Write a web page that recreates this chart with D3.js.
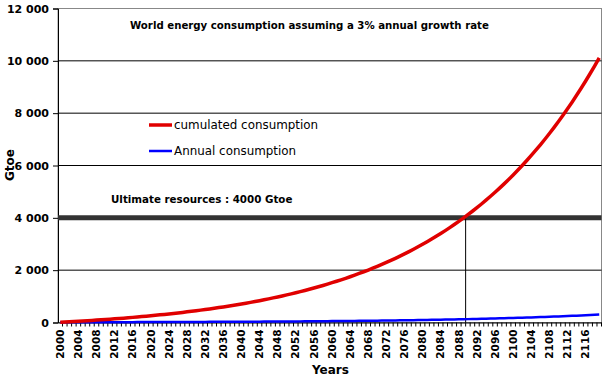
<!DOCTYPE html>
<html>
<head>
<meta charset="utf-8">
<script src="https://cdn.jsdelivr.net/npm/d3@7"></script>
<style>
  body { margin: 0; background: #fff; }
  text { font-family: "DejaVu Sans", sans-serif; }
</style>
</head>
<body>
<div id="chart"></div>
<script>
// years shown on the category axis (2000 -> 2119)
var years = d3.range(2000, 2120);

// cumulated consumption since 2000 (Gtoe)
var cumulated = [
    9, 18, 28, 38, 48, 58, 69, 80, 91, 103,
    115, 128, 141, 154, 167, 181, 196, 211, 226, 242,
    258, 275, 292, 310, 328, 347, 366, 386, 407, 428,
    450, 473, 496, 520, 544, 570, 596, 622, 650, 679,
    708, 738, 769, 801, 834, 869, 904, 940, 977, 1015,
    1055, 1095, 1137, 1180, 1225, 1270, 1318, 1366, 1416, 1468,
    1521, 1575, 1631, 1689, 1749, 1811, 1874, 1939, 2006, 2075,
    2147, 2220, 2296, 2374, 2454, 2536, 2621, 2709, 2799, 2892,
    2988, 3087, 3188, 3293, 3401, 3512, 3626, 3744, 3865, 3990,
    4119, 4251, 4388, 4529, 4674, 4823, 4976, 5135, 5298, 5466,
    5639, 5817, 6000, 6189, 6384, 6584, 6791, 7004, 7223, 7448,
    7681, 7920, 8167, 8421, 8683, 8952, 9230, 9516, 9810, 10113
];

// annual consumption (Gtoe)
var annual = [
    9, 9, 10, 10, 10, 10, 11, 11, 11, 12,
    12, 12, 13, 13, 14, 14, 14, 15, 15, 16,
    16, 17, 17, 18, 18, 19, 19, 20, 21, 21,
    22, 23, 23, 24, 25, 25, 26, 27, 28, 29,
    29, 30, 31, 32, 33, 34, 35, 36, 37, 38,
    39, 41, 42, 43, 44, 46, 47, 49, 50, 51,
    53, 55, 56, 58, 60, 61, 63, 65, 67, 69,
    71, 73, 76, 78, 80, 83, 85, 88, 90, 93,
    96, 99, 102, 105, 108, 111, 114, 118, 121, 125,
    129, 133, 137, 141, 145, 149, 154, 158, 163, 168,
    173, 178, 184, 189, 195, 201, 207, 213, 219, 226,
    232, 239, 247, 254, 262, 269, 278, 286, 294, 303
];

var yTicks = [0, 2000, 4000, 6000, 8000, 10000, 12000];
var ultimateResources = 4000;
var exhaustionYear = 2090;   // first year past the resource line

var seriesNames = ["cumulated consumption", "Annual consumption"];
var seriesColors = ["#e00000", "#0000ff"];

// dimensions
var W = 604, H = 377;
var margin = { top: 8.5, right: 2.5, bottom: 54.5, left: 58 },
    width = W - margin.left - margin.right,
    height = H - margin.top - margin.bottom;

var svg = d3.select("#chart")
    .append("svg")
    .attr("width", W)
    .attr("height", H)
    .append("g")
    .attr("transform", "translate(" + margin.left + "," + margin.top + ")");

var x = d3.scaleBand()
    .domain(years)
    .range([0, width]);

var y = d3.scaleLinear()
    .domain([0, 12000])
    .range([height, 0]);

var fmt = function (d) { return d3.format(",")(d).replace(/,/g, " "); };

// plot frame (grey top and right edges)
svg.append("rect")
    .attr("x", 0).attr("y", 0)
    .attr("width", width).attr("height", height)
    .attr("fill", "none")
    .attr("stroke", "#888")
    .attr("stroke-width", 1);

// horizontal gridlines
svg.append("g")
    .selectAll("line")
    .data(yTicks.filter(function (d) { return d > 0 && d < 12000 && d != ultimateResources; }))
    .enter().append("line")
    .attr("x1", 0).attr("x2", width)
    .attr("y1", function (d) { return y(d); })
    .attr("y2", function (d) { return y(d); })
    .attr("stroke", "#000")
    .attr("stroke-width", 1);

// Y axis
var yAxis = svg.append("g")
    .call(d3.axisLeft(y).tickValues(yTicks).tickFormat(fmt).tickSize(5).tickPadding(4));
yAxis.select(".domain").attr("stroke", "#000");
yAxis.selectAll("text")
    .style("font-family", "DejaVu Sans")
    .style("font-weight", "bold")
    .style("font-size", "11px")
    .attr("fill", "#000");

// X axis
var xAxis = svg.append("g")
    .attr("transform", "translate(0," + height + ")")
    .call(d3.axisBottom(x)
        .tickValues(years.filter(function (d) { return (d - 2000) % 4 == 0; }))
        .tickSize(0).tickPadding(0));
xAxis.select(".domain").attr("stroke", "#000");
xAxis.selectAll("text")
    .attr("transform", "rotate(-90)")
    .attr("x", -7)
    .attr("y", 0)
    .attr("dy", "0.35em")
    .attr("text-anchor", "end")
    .style("font-family", "DejaVu Sans")
    .style("font-weight", "bold")
    .style("font-size", "10.5px")
    .attr("fill", "#000");

// one tick between each category
svg.append("g")
    .attr("transform", "translate(0," + height + ")")
    .selectAll("line")
    .data(years.slice(1).concat([null]))
    .enter().append("line")
    .attr("x1", function (d) { return d == null ? width : x(d); })
    .attr("x2", function (d) { return d == null ? width : x(d); })
    .attr("y1", 0).attr("y2", 4)
    .attr("stroke", "#000");

// ultimate resources line
svg.append("line")
    .attr("x1", 0).attr("x2", width)
    .attr("y1", y(ultimateResources)).attr("y2", y(ultimateResources))
    .attr("stroke", "#333")
    .attr("stroke-width", 5);

svg.append("text")
    .attr("x", 111 - margin.left)
    .attr("y", 203 - margin.top)
    .style("font-weight", "bold")
    .style("font-size", "10.3px")
    .text("Ultimate resources : " + ultimateResources + " Gtoe");

// vertical marker at exhaustion year
svg.append("line")
    .attr("x1", x(exhaustionYear)).attr("x2", x(exhaustionYear))
    .attr("y1", y(0)).attr("y2", y(ultimateResources))
    .attr("stroke", "#000")
    .attr("stroke-width", 1);

// series lines
var line = function (values) {
    return d3.line()
        .x(function (d, i) { return x(years[i]) + x.bandwidth() / 2; })
        .y(function (d) { return y(d); })(values);
};

svg.append("path")
    .attr("d", line(annual))
    .attr("fill", "none")
    .attr("stroke", seriesColors[1])
    .attr("stroke-width", 2.5);

svg.append("path")
    .attr("d", line(cumulated))
    .attr("fill", "none")
    .attr("stroke", seriesColors[0])
    .attr("stroke-width", 3.5);

// legend
var legend = svg.append("g")
    .attr("transform", "translate(" + (149 - margin.left) + "," + (125 - margin.top) + ")");
seriesNames.forEach(function (name, i) {
    var g = legend.append("g").attr("transform", "translate(0," + (i * 26) + ")");
    g.append("line")
        .attr("x1", 0).attr("x2", 23)
        .attr("stroke", seriesColors[i])
        .attr("stroke-width", i == 0 ? 3.5 : 2.5);
    g.append("text")
        .attr("x", 25)
        .attr("dy", "0.35em")
        .style("font-size", "11.9px")
        .text(name);
});

// title
svg.append("text")
    .attr("x", 130 - margin.left)
    .attr("y", 29 - margin.top)
    .style("font-weight", "bold")
    .style("font-size", "10.2px")
    .text("World energy consumption assuming a 3% annual growth rate");

// axis titles
svg.append("text")
    .attr("transform", "translate(" + (14 - margin.left) + "," + (165 - margin.top) + ") rotate(-90)")
    .attr("text-anchor", "middle")
    .style("font-weight", "bold")
    .style("font-size", "12px")
    .text("Gtoe");

svg.append("text")
    .attr("x", 312 - margin.left)
    .attr("y", 374 - margin.top)
    .style("font-weight", "bold")
    .style("font-size", "12px")
    .text("Years");
</script>
</body>
</html>
